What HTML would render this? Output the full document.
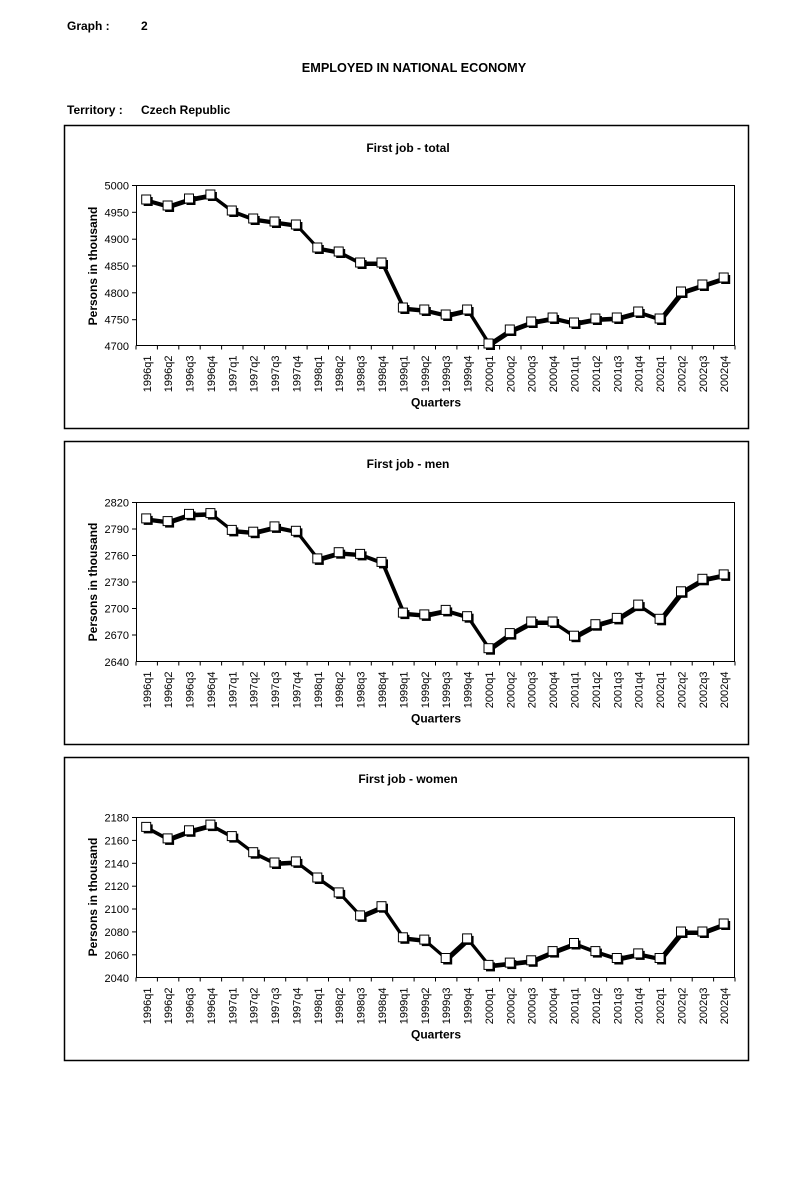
<!DOCTYPE html>
<html><head><meta charset="utf-8"><style>
html,body{margin:0;padding:0;background:#fff}
svg{display:block}
text{font-family:"Liberation Sans",Arial,sans-serif;fill:#000}
.b{font-weight:bold;font-size:12px}
.t{font-size:11px}
.yl{font-size:11px;text-anchor:end}
</style></head><body>
<svg width="807" height="1181" viewBox="0 0 807 1181" xmlns="http://www.w3.org/2000/svg">
<defs>
<g id="m"><rect x="-3" y="-3" width="9" height="9" fill="#000"/><rect x="-5" y="-5" width="9" height="9" fill="#fff" stroke="#000" stroke-width="1"/></g>
<g id="xt">
<line x1="136" y1="0" x2="735" y2="0" stroke="#000"/>
<g stroke="#000"><line x1="136" y1="0" x2="136" y2="4"/><line x1="157.4" y1="0" x2="157.4" y2="4"/><line x1="178.8" y1="0" x2="178.8" y2="4"/><line x1="200.2" y1="0" x2="200.2" y2="4"/><line x1="221.6" y1="0" x2="221.6" y2="4"/><line x1="243" y1="0" x2="243" y2="4"/><line x1="264.4" y1="0" x2="264.4" y2="4"/><line x1="285.7" y1="0" x2="285.7" y2="4"/><line x1="307.1" y1="0" x2="307.1" y2="4"/><line x1="328.5" y1="0" x2="328.5" y2="4"/><line x1="349.9" y1="0" x2="349.9" y2="4"/><line x1="371.3" y1="0" x2="371.3" y2="4"/><line x1="392.7" y1="0" x2="392.7" y2="4"/><line x1="414.1" y1="0" x2="414.1" y2="4"/><line x1="435.5" y1="0" x2="435.5" y2="4"/><line x1="456.9" y1="0" x2="456.9" y2="4"/><line x1="478.3" y1="0" x2="478.3" y2="4"/><line x1="499.6" y1="0" x2="499.6" y2="4"/><line x1="521" y1="0" x2="521" y2="4"/><line x1="542.4" y1="0" x2="542.4" y2="4"/><line x1="563.8" y1="0" x2="563.8" y2="4"/><line x1="585.2" y1="0" x2="585.2" y2="4"/><line x1="606.6" y1="0" x2="606.6" y2="4"/><line x1="628" y1="0" x2="628" y2="4"/><line x1="649.4" y1="0" x2="649.4" y2="4"/><line x1="670.8" y1="0" x2="670.8" y2="4"/><line x1="692.2" y1="0" x2="692.2" y2="4"/><line x1="713.6" y1="0" x2="713.6" y2="4"/><line x1="735" y1="0" x2="735" y2="4"/></g>
<g class="t" text-anchor="end">
<text transform="translate(151,10) rotate(-90)">1996q1</text>
<text transform="translate(172,10) rotate(-90)">1996q2</text>
<text transform="translate(193.5,10) rotate(-90)">1996q3</text>
<text transform="translate(215,10) rotate(-90)">1996q4</text>
<text transform="translate(236.3,10) rotate(-90)">1997q1</text>
<text transform="translate(257.7,10) rotate(-90)">1997q2</text>
<text transform="translate(279,10) rotate(-90)">1997q3</text>
<text transform="translate(300.4,10) rotate(-90)">1997q4</text>
<text transform="translate(321.8,10) rotate(-90)">1998q1</text>
<text transform="translate(343.2,10) rotate(-90)">1998q2</text>
<text transform="translate(364.6,10) rotate(-90)">1998q3</text>
<text transform="translate(386,10) rotate(-90)">1998q4</text>
<text transform="translate(407.4,10) rotate(-90)">1999q1</text>
<text transform="translate(428.8,10) rotate(-90)">1999q2</text>
<text transform="translate(450.2,10) rotate(-90)">1999q3</text>
<text transform="translate(471.6,10) rotate(-90)">1999q4</text>
<text transform="translate(493,10) rotate(-90)">2000q1</text>
<text transform="translate(514.3,10) rotate(-90)">2000q2</text>
<text transform="translate(535.7,10) rotate(-90)">2000q3</text>
<text transform="translate(557.1,10) rotate(-90)">2000q4</text>
<text transform="translate(578.5,10) rotate(-90)">2001q1</text>
<text transform="translate(599.9,10) rotate(-90)">2001q2</text>
<text transform="translate(621.3,10) rotate(-90)">2001q3</text>
<text transform="translate(642.7,10) rotate(-90)">2001q4</text>
<text transform="translate(664.1,10) rotate(-90)">2002q1</text>
<text transform="translate(685.5,10) rotate(-90)">2002q2</text>
<text transform="translate(706.9,10) rotate(-90)">2002q3</text>
<text transform="translate(728.2,10) rotate(-90)">2002q4</text>
</g>
<text class="b" x="436" y="61" text-anchor="middle">Quarters</text>
</g>
</defs>

<text class="b" x="67" y="30">Graph :</text>
<text class="b" x="141" y="30">2</text>
<text class="b" x="414" y="72" text-anchor="middle" style="font-size:12.7px">EMPLOYED IN NATIONAL ECONOMY</text>
<text class="b" x="67" y="114">Territory :</text>
<text class="b" x="141" y="114">Czech Republic</text>

<!-- Chart 1 -->
<rect x="64.5" y="125.5" width="684" height="303" fill="#fff" stroke="#000" stroke-width="1.5"/>
<text class="b" x="408" y="152" text-anchor="middle">First job - total</text>
<rect x="136.5" y="185.5" width="598" height="160" fill="#fff" stroke="#000"/>
<g stroke="#000"><line x1="132" y1="185.5" x2="136" y2="185.5"/><line x1="132" y1="212.3" x2="136" y2="212.3"/><line x1="132" y1="239.2" x2="136" y2="239.2"/><line x1="132" y1="266" x2="136" y2="266"/><line x1="132" y1="292.8" x2="136" y2="292.8"/><line x1="132" y1="319.7" x2="136" y2="319.7"/></g>
<g class="yl"><text x="129" y="189.5">5000</text><text x="129" y="216.3">4950</text><text x="129" y="243.2">4900</text><text x="129" y="270">4850</text><text x="129" y="296.8">4800</text><text x="129" y="323.7">4750</text><text x="129" y="350">4700</text></g>
<text class="b" transform="translate(97,266) rotate(-90)" text-anchor="middle">Persons in thousand</text>
<use href="#xt" y="345.5"/>
<g fill="none" stroke="#000" stroke-width="3" stroke-linejoin="round">
<polyline transform="translate(1.5,1.5)" points="146.7,200 168.1,206 189.5,199 210.9,195 232.3,211 253.7,219 275,222 296.4,225 317.8,248 339.2,252 360.6,263 382,263 403.4,308 424.8,310 446.2,315 467.6,310 489,344 510.3,330 531.7,322 553.1,318 574.5,323 595.9,319 617.3,318 638.7,312 660.1,319 681.5,292 702.9,285 724.2,278"/>
<polyline points="146.7,200 168.1,206 189.5,199 210.9,195 232.3,211 253.7,219 275,222 296.4,225 317.8,248 339.2,252 360.6,263 382,263 403.4,308 424.8,310 446.2,315 467.6,310 489,344 510.3,330 531.7,322 553.1,318 574.5,323 595.9,319 617.3,318 638.7,312 660.1,319 681.5,292 702.9,285 724.2,278"/>
</g>
<use href="#m" x="146.7" y="200"/><use href="#m" x="168.1" y="206"/><use href="#m" x="189.5" y="199"/><use href="#m" x="210.9" y="195"/><use href="#m" x="232.3" y="211"/><use href="#m" x="253.7" y="219"/><use href="#m" x="275" y="222"/><use href="#m" x="296.4" y="225"/><use href="#m" x="317.8" y="248"/><use href="#m" x="339.2" y="252"/><use href="#m" x="360.6" y="263"/><use href="#m" x="382" y="263"/><use href="#m" x="403.4" y="308"/><use href="#m" x="424.8" y="310"/><use href="#m" x="446.2" y="315"/><use href="#m" x="467.6" y="310"/><use href="#m" x="489" y="344"/><use href="#m" x="510.3" y="330"/><use href="#m" x="531.7" y="322"/><use href="#m" x="553.1" y="318"/><use href="#m" x="574.5" y="323"/><use href="#m" x="595.9" y="319"/><use href="#m" x="617.3" y="318"/><use href="#m" x="638.7" y="312"/><use href="#m" x="660.1" y="319"/><use href="#m" x="681.5" y="292"/><use href="#m" x="702.9" y="285"/><use href="#m" x="724.2" y="278"/>

<!-- Chart 2 -->
<rect x="64.5" y="441.5" width="684" height="303" fill="#fff" stroke="#000" stroke-width="1.5"/>
<text class="b" x="408" y="468" text-anchor="middle">First job - men</text>
<rect x="136.5" y="502.5" width="598" height="159" fill="#fff" stroke="#000"/>
<g stroke="#000"><line x1="132" y1="502.5" x2="136" y2="502.5"/><line x1="132" y1="529" x2="136" y2="529"/><line x1="132" y1="555.5" x2="136" y2="555.5"/><line x1="132" y1="582" x2="136" y2="582"/><line x1="132" y1="608.5" x2="136" y2="608.5"/><line x1="132" y1="635" x2="136" y2="635"/></g>
<g class="yl"><text x="129" y="506.5">2820</text><text x="129" y="533">2790</text><text x="129" y="559.5">2760</text><text x="129" y="586">2730</text><text x="129" y="612.5">2700</text><text x="129" y="639">2670</text><text x="129" y="666">2640</text></g>
<text class="b" transform="translate(97,582) rotate(-90)" text-anchor="middle">Persons in thousand</text>
<use href="#xt" y="661.5"/>
<g fill="none" stroke="#000" stroke-width="3" stroke-linejoin="round">
<polyline transform="translate(1.5,1.5)" points="146.7,518.9 168.1,521.6 189.5,514.4 210.9,513.6 232.3,530.4 253.7,532.2 275,526.9 296.4,531.3 317.8,558.9 339.2,552.7 360.6,554.4 382,562.4 403.4,613.1 424.8,614.9 446.2,610.4 467.6,616.7 489,648.7 510.3,633.6 531.7,622 553.1,622 574.5,636.2 595.9,624.7 617.3,618.4 638.7,605.1 660.1,619.3 681.5,591.8 702.9,579.3 724.2,574.9"/>
<polyline points="146.7,518.9 168.1,521.6 189.5,514.4 210.9,513.6 232.3,530.4 253.7,532.2 275,526.9 296.4,531.3 317.8,558.9 339.2,552.7 360.6,554.4 382,562.4 403.4,613.1 424.8,614.9 446.2,610.4 467.6,616.7 489,648.7 510.3,633.6 531.7,622 553.1,622 574.5,636.2 595.9,624.7 617.3,618.4 638.7,605.1 660.1,619.3 681.5,591.8 702.9,579.3 724.2,574.9"/>
</g>
<use href="#m" x="146.7" y="518.9"/><use href="#m" x="168.1" y="521.6"/><use href="#m" x="189.5" y="514.4"/><use href="#m" x="210.9" y="513.6"/><use href="#m" x="232.3" y="530.4"/><use href="#m" x="253.7" y="532.2"/><use href="#m" x="275" y="526.9"/><use href="#m" x="296.4" y="531.3"/><use href="#m" x="317.8" y="558.9"/><use href="#m" x="339.2" y="552.7"/><use href="#m" x="360.6" y="554.4"/><use href="#m" x="382" y="562.4"/><use href="#m" x="403.4" y="613.1"/><use href="#m" x="424.8" y="614.9"/><use href="#m" x="446.2" y="610.4"/><use href="#m" x="467.6" y="616.7"/><use href="#m" x="489" y="648.7"/><use href="#m" x="510.3" y="633.6"/><use href="#m" x="531.7" y="622"/><use href="#m" x="553.1" y="622"/><use href="#m" x="574.5" y="636.2"/><use href="#m" x="595.9" y="624.7"/><use href="#m" x="617.3" y="618.4"/><use href="#m" x="638.7" y="605.1"/><use href="#m" x="660.1" y="619.3"/><use href="#m" x="681.5" y="591.8"/><use href="#m" x="702.9" y="579.3"/><use href="#m" x="724.2" y="574.9"/>

<!-- Chart 3 -->
<rect x="64.5" y="757.5" width="684" height="303" fill="#fff" stroke="#000" stroke-width="1.5"/>
<text class="b" x="408" y="783" text-anchor="middle">First job - women</text>
<rect x="136.5" y="817.5" width="598" height="160" fill="#fff" stroke="#000"/>
<g stroke="#000"><line x1="132" y1="817.5" x2="136" y2="817.5"/><line x1="132" y1="840.4" x2="136" y2="840.4"/><line x1="132" y1="863.3" x2="136" y2="863.3"/><line x1="132" y1="886.2" x2="136" y2="886.2"/><line x1="132" y1="909" x2="136" y2="909"/><line x1="132" y1="931.9" x2="136" y2="931.9"/><line x1="132" y1="954.8" x2="136" y2="954.8"/></g>
<g class="yl"><text x="129" y="821.5">2180</text><text x="129" y="844.4">2160</text><text x="129" y="867.3">2140</text><text x="129" y="890.2">2120</text><text x="129" y="913">2100</text><text x="129" y="935.9">2080</text><text x="129" y="958.8">2060</text><text x="129" y="982">2040</text></g>
<text class="b" transform="translate(97,897) rotate(-90)" text-anchor="middle">Persons in thousand</text>
<use href="#xt" y="977.5"/>
<g fill="none" stroke="#000" stroke-width="3" stroke-linejoin="round">
<polyline transform="translate(1.5,1.5)" points="146.7,827.4 168.1,838.9 189.5,830.8 210.9,825.1 232.3,836.6 253.7,852.7 275,863 296.4,861.9 317.8,878 339.2,892.9 360.6,915.9 382,906.7 403.4,937.8 424.8,940.1 446.2,958.5 467.6,938.9 489,965.4 510.3,963.1 531.7,960.8 553.1,951.6 574.5,943.5 595.9,951.6 617.3,958.5 638.7,953.9 660.1,958.5 681.5,932 702.9,932 724.2,924"/>
<polyline points="146.7,827.4 168.1,838.9 189.5,830.8 210.9,825.1 232.3,836.6 253.7,852.7 275,863 296.4,861.9 317.8,878 339.2,892.9 360.6,915.9 382,906.7 403.4,937.8 424.8,940.1 446.2,958.5 467.6,938.9 489,965.4 510.3,963.1 531.7,960.8 553.1,951.6 574.5,943.5 595.9,951.6 617.3,958.5 638.7,953.9 660.1,958.5 681.5,932 702.9,932 724.2,924"/>
</g>
<use href="#m" x="146.7" y="827.4"/><use href="#m" x="168.1" y="838.9"/><use href="#m" x="189.5" y="830.8"/><use href="#m" x="210.9" y="825.1"/><use href="#m" x="232.3" y="836.6"/><use href="#m" x="253.7" y="852.7"/><use href="#m" x="275" y="863"/><use href="#m" x="296.4" y="861.9"/><use href="#m" x="317.8" y="878"/><use href="#m" x="339.2" y="892.9"/><use href="#m" x="360.6" y="915.9"/><use href="#m" x="382" y="906.7"/><use href="#m" x="403.4" y="937.8"/><use href="#m" x="424.8" y="940.1"/><use href="#m" x="446.2" y="958.5"/><use href="#m" x="467.6" y="938.9"/><use href="#m" x="489" y="965.4"/><use href="#m" x="510.3" y="963.1"/><use href="#m" x="531.7" y="960.8"/><use href="#m" x="553.1" y="951.6"/><use href="#m" x="574.5" y="943.5"/><use href="#m" x="595.9" y="951.6"/><use href="#m" x="617.3" y="958.5"/><use href="#m" x="638.7" y="953.9"/><use href="#m" x="660.1" y="958.5"/><use href="#m" x="681.5" y="932"/><use href="#m" x="702.9" y="932"/><use href="#m" x="724.2" y="924"/>
</svg>
</body></html>
